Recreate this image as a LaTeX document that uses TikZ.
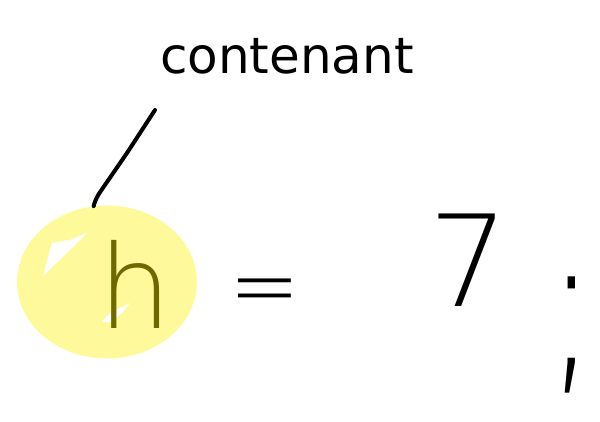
\documentclass[tikz,border=0pt]{standalone}
\usepackage{fontspec}
\usepackage{graphicx}
\usetikzlibrary{shapes.geometric}
\newfontfamily\handf{DejaVu Sans}
\newfontfamily\thinf{DejaVu Sans ExtraLight}
\definecolor{blobyellow}{RGB}{254,250,155}
\definecolor{hcolor}{RGB}{110,104,0}
\tikzset{
  blobshape/.style={ellipse, fill=blobyellow, draw=none, minimum width=180pt, minimum height=153pt, inner sep=0pt},
  handlabel/.style={inner sep=0pt, font=\handf\fontsize{50}{52}\selectfont},
  glyph/.style={inner sep=0pt, font=\thinf\fontsize{116}{120}\selectfont},
  conn/.style={line width=4pt, black, line cap=round, line join=round, rounded corners=6pt},
  speck/.style={fill=white, draw=none}
}
\begin{document}
\begin{tikzpicture}[x=1pt,y=-1pt]
\useasboundingbox (0,0) rectangle (600,422);
\node[blobshape] (blob) at (107,282) {};
\fill[speck] (43,276) -- (52,243) -- (70,240) -- (87,233) -- (70,250) -- cycle;
\fill[speck] (102,322) -- (110,313) -- (130,303) -- (122,313) -- (110,322) -- cycle;
\node[glyph, text=hcolor, anchor=base] (h) at (135,328) {h};
\node[handlabel, anchor=base] (label) at (287,74) {contenant};
\coordinate (tail) at (155,110);
\draw[conn] (blob.100) -- (96,198) -- (127,153) -- (tail);
\node[glyph, anchor=base, font=\thinf\fontsize{96}{100}\selectfont] (eq) at (265,319) {\scalebox{0.88}[1]{=}};
\node[glyph, anchor=base, font=\thinf\fontsize{127}{130}\selectfont] (seven) at (469,306) {7};
\node[glyph, anchor=base, font=\thinf\fontsize{150}{150}\selectfont] (semi) at (572,370) {\scalebox{1}[1.3]{;}};
\end{tikzpicture}
\end{document}
